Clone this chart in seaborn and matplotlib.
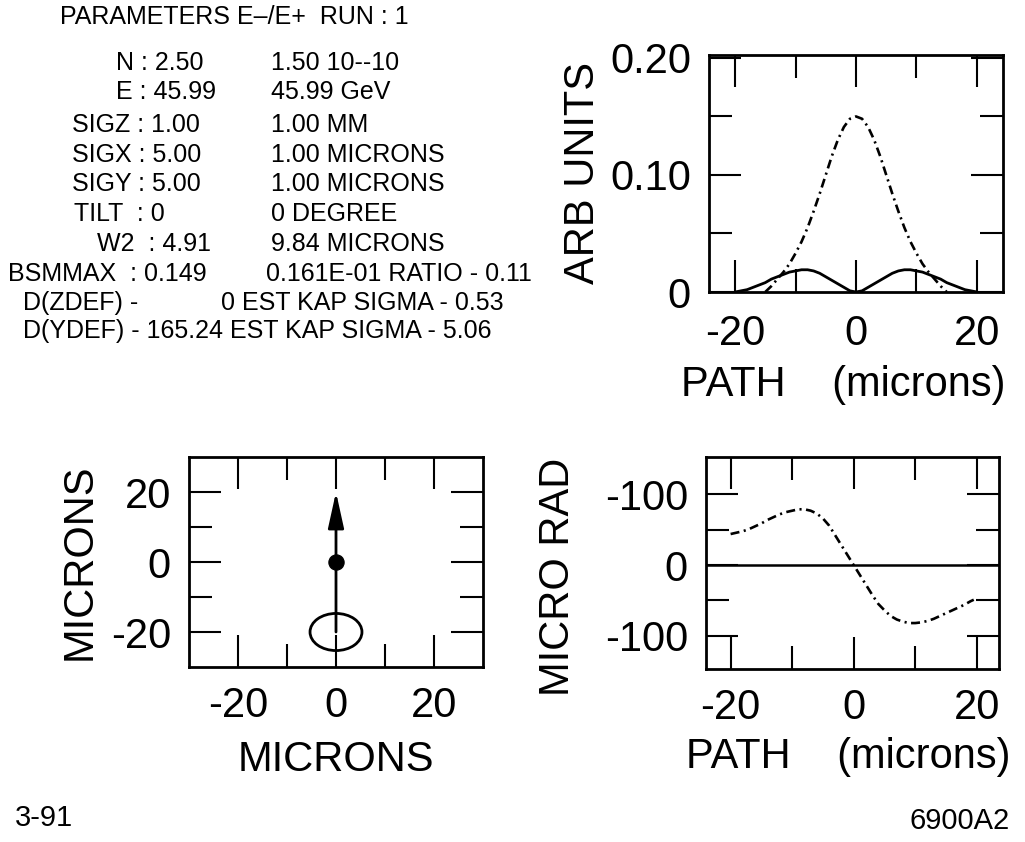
import matplotlib
matplotlib.use("Agg")
import matplotlib.pyplot as plt
import seaborn as sns
from matplotlib.patches import Ellipse
from matplotlib.ticker import FixedLocator, FixedFormatter

# ---- data ----
# top right: ARB UNITS vs PATH
solid_x = [-20, -19, -18, -17, -16, -15, -14, -13, -12, -11, -10, -9, -8, -7, -6, -5, -4, -3, -2, -1, 0,
           1, 2, 3, 4, 5, 6, 7, 8, 9, 10, 11, 12, 13, 14, 15, 16, 17, 18, 19, 20]
solid_y = [0.000, 0.001, 0.002, 0.004, 0.006, 0.008, 0.011, 0.013, 0.015, 0.017, 0.018, 0.019, 0.019,
           0.018, 0.016, 0.013, 0.010, 0.007, 0.004, 0.001, 0.000,
           0.001, 0.004, 0.007, 0.010, 0.013, 0.016, 0.018, 0.019, 0.019, 0.018, 0.017, 0.015, 0.013,
           0.011, 0.008, 0.006, 0.004, 0.002, 0.001, 0.000]
dash_x = [-15, -14, -13, -12, -11, -10, -9, -8, -7, -6, -5, -4, -3, -2, -1, 0,
          1, 2, 3, 4, 5, 6, 7, 8, 9, 10, 11, 12, 13, 14, 15]
dash_y = [0.000, 0.005, 0.011, 0.017, 0.024, 0.033, 0.043, 0.055, 0.069, 0.084, 0.100, 0.116, 0.130,
          0.141, 0.148, 0.150,
          0.148, 0.141, 0.130, 0.116, 0.100, 0.084, 0.069, 0.055, 0.043, 0.033, 0.024, 0.017, 0.011,
          0.005, 0.000]

# bottom right: MICRO RAD vs PATH
rad_x = [-20, -19, -18, -17, -16, -15, -14, -13, -12, -11, -10, -9, -8, -7, -6, -5, -4, -3, -2, -1, 0,
         1, 2, 3, 4, 5, 6, 7, 8, 9, 10, 11, 12, 13, 14, 15, 16, 17, 18, 19, 19.5]
rad_y = [44, 46, 48, 51, 55, 59, 64, 68, 72, 75, 77, 79, 79, 77, 73, 66, 56, 42, 28, 14, 0,
         -14, -28, -42, -55, -64, -72, -77, -80, -82, -82, -81, -79, -76, -72, -68, -64, -60, -56, -51, -49]

# bottom left: beam positions (microns)
arrow_start = (0, -20)
arrow_end = (0, 20)
dot_pos = (0, 0)
ellipse_center = (0, -20)
ellipse_size = (10.6, 10.6)

param_title = "PARAMETERS E\u2013/E+  RUN : 1"
param_rows = [
    ("N : 2.50", "1.50 10--10"),
    ("E : 45.99", "45.99 GeV"),
    ("SIGZ : 1.00", "1.00 MM"),
    ("SIGX : 5.00", "1.00 MICRONS"),
    ("SIGY : 5.00", "1.00 MICRONS"),
    ("TILT  : 0", "0 DEGREE"),
    ("W2  : 4.91", "9.84 MICRONS"),
    ("BSMMAX  : 0.149", "0.161E-01 RATIO - 0.11"),
    ("D(ZDEF) -", "0 EST KAP SIGMA - 0.53"),
    ("D(YDEF) - 165.24 EST KAP SIGMA - 5.06", ""),
]
row_left = [116, 116, 72, 72, 72, 74, 97, 8, 23, 23]
row_right = [271, 271, 271, 271, 271, 271, 271, 266, 221, 0]
row_y = [63, 92, 125, 155, 184, 214, 244, 274, 303, 331]

W, H = 1025, 842
sns.set_theme(style="ticks")
plt.rcParams['font.family'] = ['Liberation Sans', 'DejaVu Sans']
plt.rcParams.update({"text.color": "black", "axes.labelcolor": "black",
                     "xtick.color": "black", "ytick.color": "black"})

fig = plt.figure(figsize=(W / 100, H / 100), dpi=100)
fig.patch.set_facecolor("white")


def add_ax(left, top, right, bottom):
    return fig.add_axes([left / W, 1 - bottom / H, (right - left) / W, (bottom - top) / H])


def style(ax, xmaj, xlab, xmin, ymaj, ylab, ymin):
    ax.xaxis.set_major_locator(FixedLocator(xmaj))
    ax.xaxis.set_major_formatter(FixedFormatter(xlab))
    ax.xaxis.set_minor_locator(FixedLocator(xmin))
    ax.yaxis.set_major_locator(FixedLocator(ymaj))
    ax.yaxis.set_major_formatter(FixedFormatter(ylab))
    ax.yaxis.set_minor_locator(FixedLocator(ymin))
    ax.tick_params(which="both", direction="in", top=True, right=True, width=1.5,
                   color="black", labelcolor="black", labelsize=30)
    ax.tick_params(which="major", length=23)
    ax.tick_params(which="minor", length=16.5)
    ax.tick_params(axis="x", pad=14)
    ax.tick_params(axis="y", pad=13)
    for s in ax.spines.values():
        s.set_linewidth(2.0)
        s.set_color("black")
    ax.set_facecolor("white")
    ax.grid(False)


def place_labels(ax, xl, yl, xpos, ypos):
    ax.set_xlabel(xl, fontsize=30)
    ax.set_ylabel(yl, fontsize=30)
    ax.xaxis.set_label_coords(*xpos)
    ax.xaxis.label.set_va("center")
    ax.yaxis.set_label_coords(*ypos)
    ax.yaxis.label.set_va("center")


dashdot = (0, (3.4, 1.7, 0.8, 1.7))

# top right
ax1 = add_ax(709, 55, 1003, 292)
sns.lineplot(x=solid_x, y=solid_y, ax=ax1, color="black", lw=2)
sns.lineplot(x=dash_x, y=dash_y, ax=ax1, color="black", lw=1.9, linestyle=dashdot)
ax1.set_xlim(-24.3, 24.3)
ax1.set_ylim(0, 0.2025)
style(ax1, [-20, 0, 20], ["-20", "0", "20"], [-10, 10],
      [0, 0.10, 0.20], ["0", "0.10", "0.20"], [0.05, 0.15])
ax1.tick_params(axis="x", pad=16)
place_labels(ax1, "PATH    (microns)", "ARB UNITS", (0.456, -0.394), (-0.43, 0.5))

# bottom left
ax2 = add_ax(189, 457, 483, 667)
ax2.annotate("", xy=arrow_end, xytext=arrow_start,
             arrowprops=dict(arrowstyle="-|>,head_length=1.0,head_width=0.22", color="black",
                             lw=2, mutation_scale=22, shrinkA=0, shrinkB=0))
sns.scatterplot(x=[dot_pos[0]], y=[dot_pos[1]], ax=ax2, color="black", s=120, edgecolor="black", zorder=5)
ax2.add_patch(Ellipse(ellipse_center, ellipse_size[0], ellipse_size[1], fill=False, lw=2, ec="black"))
ax2.set_xlim(-30, 30)
ax2.set_ylim(-30, 30)
style(ax2, [-20, 0, 20], ["-20", "0", "20"], [-10, 10],
      [-20, 0, 20], ["-20", "0", "20"], [-10, 10])
place_labels(ax2, "MICRONS", "MICRONS", (0.5, -0.443), (-0.371, 0.5))

# bottom right
ax3 = add_ax(706, 457, 999, 669)
ax3.axhline(0, color="black", lw=1.8)
sns.lineplot(x=rad_x, y=rad_y, ax=ax3, color="black", lw=1.9, linestyle=dashdot)
ax3.set_xlim(-24, 23.6)
ax3.set_ylim(-147, 153)
style(ax3, [-20, 0, 20], ["-20", "0", "20"], [-10, 10],
      [-100, 0, 100], ["-100", "0", "-100"], [-50, 50])
place_labels(ax3, "PATH    (microns)", "MICRO RAD", (0.485, -0.417), (-0.505, 0.434))

# parameter block
fig.text(60 / W, 1 - 17 / H, param_title, fontsize=18, va="center")
for (lt, rt), xl, xr, yy in zip(param_rows, row_left, row_right, row_y):
    fig.text(xl / W, 1 - yy / H, lt, fontsize=18, va="center")
    if rt:
        fig.text(xr / W, 1 - yy / H, rt, fontsize=18, va="center")

fig.text(15 / W, 1 - 818 / H, "3-91", fontsize=21, va="center")
fig.text(1010 / W, 1 - 821 / H, "6900A2", fontsize=21, va="center", ha="right")

fig.savefig("out.png", dpi=100, facecolor="white")
